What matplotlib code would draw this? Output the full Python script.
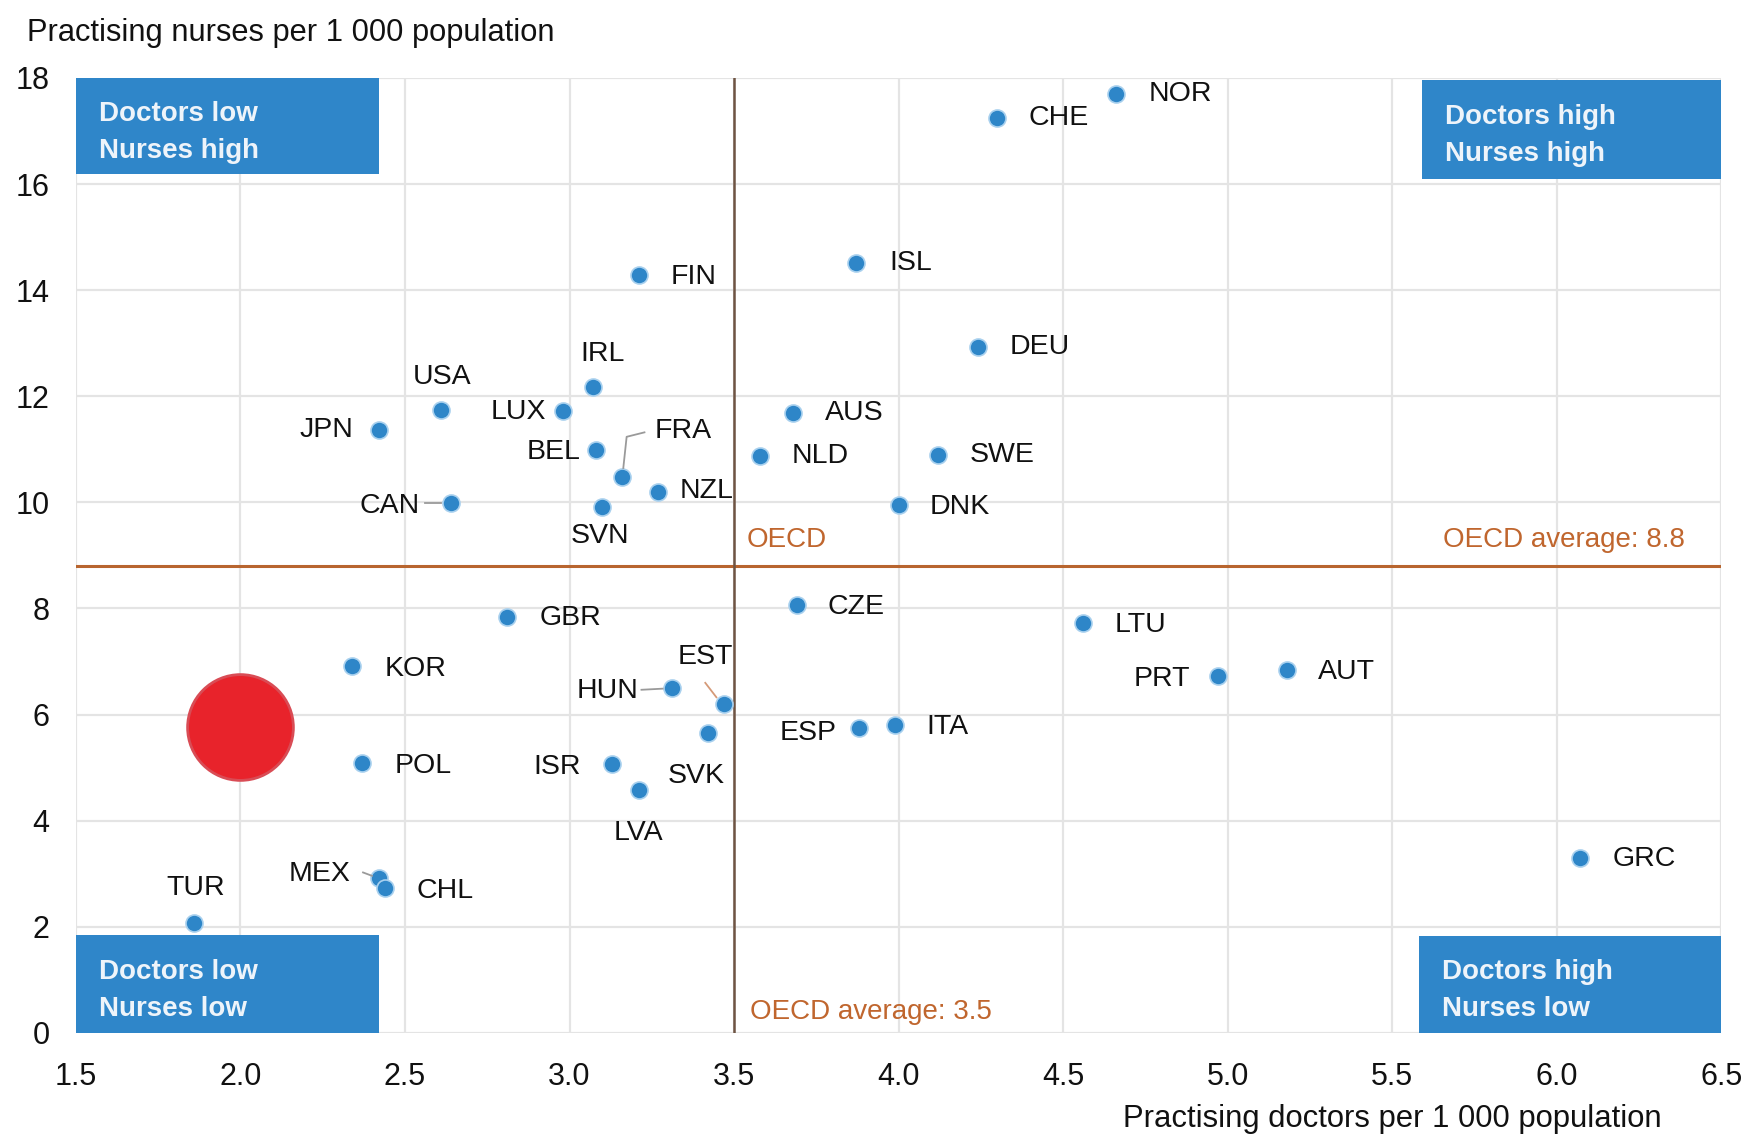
import numpy as np
import matplotlib.pyplot as plt
from matplotlib.lines import Line2D
from matplotlib.transforms import IdentityTransform

plt.rcParams['font.family'] = ['Liberation Sans', 'DejaVu Sans']

# data: practising doctors (x) and nurses (y) per 1 000 population
countries = ['NOR', 'CHE', 'ISL', 'FIN', 'DEU', 'IRL', 'USA', 'LUX', 'AUS', 'JPN',
             'BEL', 'NLD', 'SWE', 'FRA', 'NZL', 'CAN', 'SVN', 'DNK', 'CZE', 'GBR',
             'LTU', 'KOR', 'AUT', 'PRT', 'HUN', 'EST', 'ESP', 'ITA', 'SVK', 'POL',
             'ISR', 'LVA', 'GRC', 'MEX', 'CHL', 'TUR']
doctors = [4.66, 4.30, 3.87, 3.21, 4.24, 3.07, 2.61, 2.98, 3.68, 2.42,
           3.08, 3.58, 4.12, 3.16, 3.27, 2.64, 3.10, 4.00, 3.69, 2.81,
           4.56, 2.34, 5.18, 4.97, 3.31, 3.47, 3.88, 3.99, 3.42, 2.37,
           3.13, 3.21, 6.07, 2.42, 2.44, 1.86]
nurses = [17.69, 17.25, 14.52, 14.29, 12.92, 12.18, 11.74, 11.72, 11.68, 11.37,
          10.99, 10.88, 10.90, 10.48, 10.19, 9.98, 9.92, 9.96, 8.07, 7.84,
          7.73, 6.91, 6.85, 6.72, 6.51, 6.20, 5.74, 5.80, 5.65, 5.08,
          5.06, 4.58, 3.30, 2.92, 2.73, 2.08]

oecd_doctors = 3.5
oecd_nurses = 8.8

# the red mark drawn over the chart
red_x = [2.0]
red_y = [5.76]

quadrants = ['Doctors low\nNurses high', 'Doctors high\nNurses high',
             'Doctors low\nNurses low', 'Doctors high\nNurses low']

# label offsets in pixels of the reference (dx, dy, ha); dy positive = up
offsets = {
    'NOR': (29, 0, 'left'), 'CHE': (28, 0, 'left'), 'ISL': (30, 0, 'left'),
    'FIN': (29, -2, 'left'), 'DEU': (29, 0, 'left'), 'IRL': (9, 29, 'center'),
    'USA': (1, 30, 'center'), 'LUX': (-15, -1, 'right'), 'AUS': (28, 0, 'left'),
    'JPN': (-23, 0, 'right'), 'BEL': (-14, -2, 'right'), 'NLD': (28, 0, 'left'),
    'SWE': (28, 0, 'left'), 'FRA': (29, 41, 'left'), 'NZL': (19, 1, 'left'),
    'CAN': (-28, -2, 'right'), 'SVN': (-2, -26, 'center'), 'DNK': (28, -2, 'left'),
    'CZE': (28, -2, 'left'), 'GBR': (29, -1, 'left'), 'LTU': (28, -2, 'left'),
    'KOR': (29, -2, 'left'), 'AUT': (28, -2, 'left'), 'PRT': (-25, -2, 'right'),
    'HUN': (-30, -3, 'right'), 'EST': (-17, 42, 'center'), 'ESP': (-20, -4, 'right'),
    'ITA': (28, -2, 'left'), 'SVK': (-10, -38, 'center'), 'POL': (29, -2, 'left'),
    'ISR': (-28, -2, 'right'), 'LVA': (0, -39, 'center'), 'GRC': (29, -1, 'left'),
    'MEX': (-25, 4, 'right'), 'CHL': (28, -3, 'left'), 'TUR': (1, 31, 'center'),
}
# leader lines, reference pixels relative to the dot
leaders = {'FRA': [(1, 8), (4, 36), (20, 40)], 'CAN': [(-23, 0), (-9, 0)],
           'HUN': [(-27, -2), (-8, -1)], 'EST': [(-7, 6), (-17, 19)],
           'MEX': [(-14, 5), (-6, 2)]}

blue = '#2e86c8'
orange = '#c0662e'
k = 0.802   # reference pixels -> points
kp = 1.114  # reference pixels -> output pixels

fig = plt.figure(figsize=(17.47, 11.41), dpi=100)
ax = fig.add_axes([0.0434, 0.0947, 0.942, 0.837])
ax.set_xlim(1.5, 6.5)
ax.set_ylim(0, 18)
xt = np.arange(1.5, 6.51, 0.5)
ax.set_xticks(xt)
ax.set_yticks(np.arange(0, 18.1, 2))
ax.set_xticklabels(['%.1f' % v for v in xt])
ax.grid(True, color='#e4e4e4', linewidth=1.6)
ax.set_axisbelow(True)
for s in ax.spines.values():
    s.set_visible(False)
ax.tick_params(length=0, labelsize=22, colors='#111111')
ax.tick_params(axis='y', pad=19)
ax.tick_params(axis='x', pad=21)

# quadrant boxes
boxes = [(1.5, 16.18, 0.92, 1.82), (5.59, 16.1, 0.92, 1.86),
         (1.5, 0.0, 0.92, 1.85), (5.58, 0.0, 0.92, 1.83)]
for (bx, by, bw, bh), txt in zip(boxes, quadrants):
    ax.add_patch(plt.Rectangle((bx, by), bw, bh, facecolor='#2f86c9',
                               edgecolor='none', zorder=2))
    ax.text(bx + 0.07, by + bh / 2 - 0.12, txt, color='#eef4fa', fontsize=20,
            fontweight='bold', va='center', ha='left', linespacing=1.55, zorder=3)

ax.axhline(oecd_nurses, color='#b8652f', linewidth=2.2, zorder=2)
ax.axvline(oecd_doctors, color='#6e5443', linewidth=1.8, zorder=2)
ax.text(6.39, 9.3, 'OECD average: 8.8', color=orange, fontsize=20,
        ha='right', va='center')
ax.text(3.537, 9.3, 'OECD', color=orange, fontsize=20, ha='left', va='center')
ax.text(3.548, 0.4, 'OECD average: 3.5', color=orange, fontsize=20,
        ha='left', va='center')

ax.scatter(doctors, nurses, s=150, color=blue, edgecolor='#a8d0ee',
           linewidth=1.2, zorder=4)

for c, x, y in zip(countries, doctors, nurses):
    dx, dy, ha = offsets[c]
    ax.annotate(c, (x, y), xytext=(dx * k, dy * k), textcoords='offset points',
                ha=ha, va='center', fontsize=20.5, color='#111111', zorder=5)
    if c in leaders:
        px, py = ax.transData.transform((x, y))
        lx = [px + p[0] * kp for p in leaders[c]]
        ly = [py + p[1] * kp for p in leaders[c]]
        col = '#d59a78' if c == 'EST' else '#9a9a9a'
        fig.add_artist(Line2D(lx, ly, color=col, linewidth=1.3,
                              transform=IdentityTransform()))

ax.scatter(red_x, red_y, s=5800, color='#e8232b', edgecolor='#d94c55',
           linewidth=2, zorder=6)

fig.text(0.0155, 0.971, 'Practising nurses per 1 000 population', fontsize=22.2,
         ha='left', va='center', color='#111111')
fig.text(0.797, 0.019, 'Practising doctors per 1 000 population', fontsize=22.3,
         ha='center', va='center', color='#111111')

fig.savefig('out.png', dpi=100)
